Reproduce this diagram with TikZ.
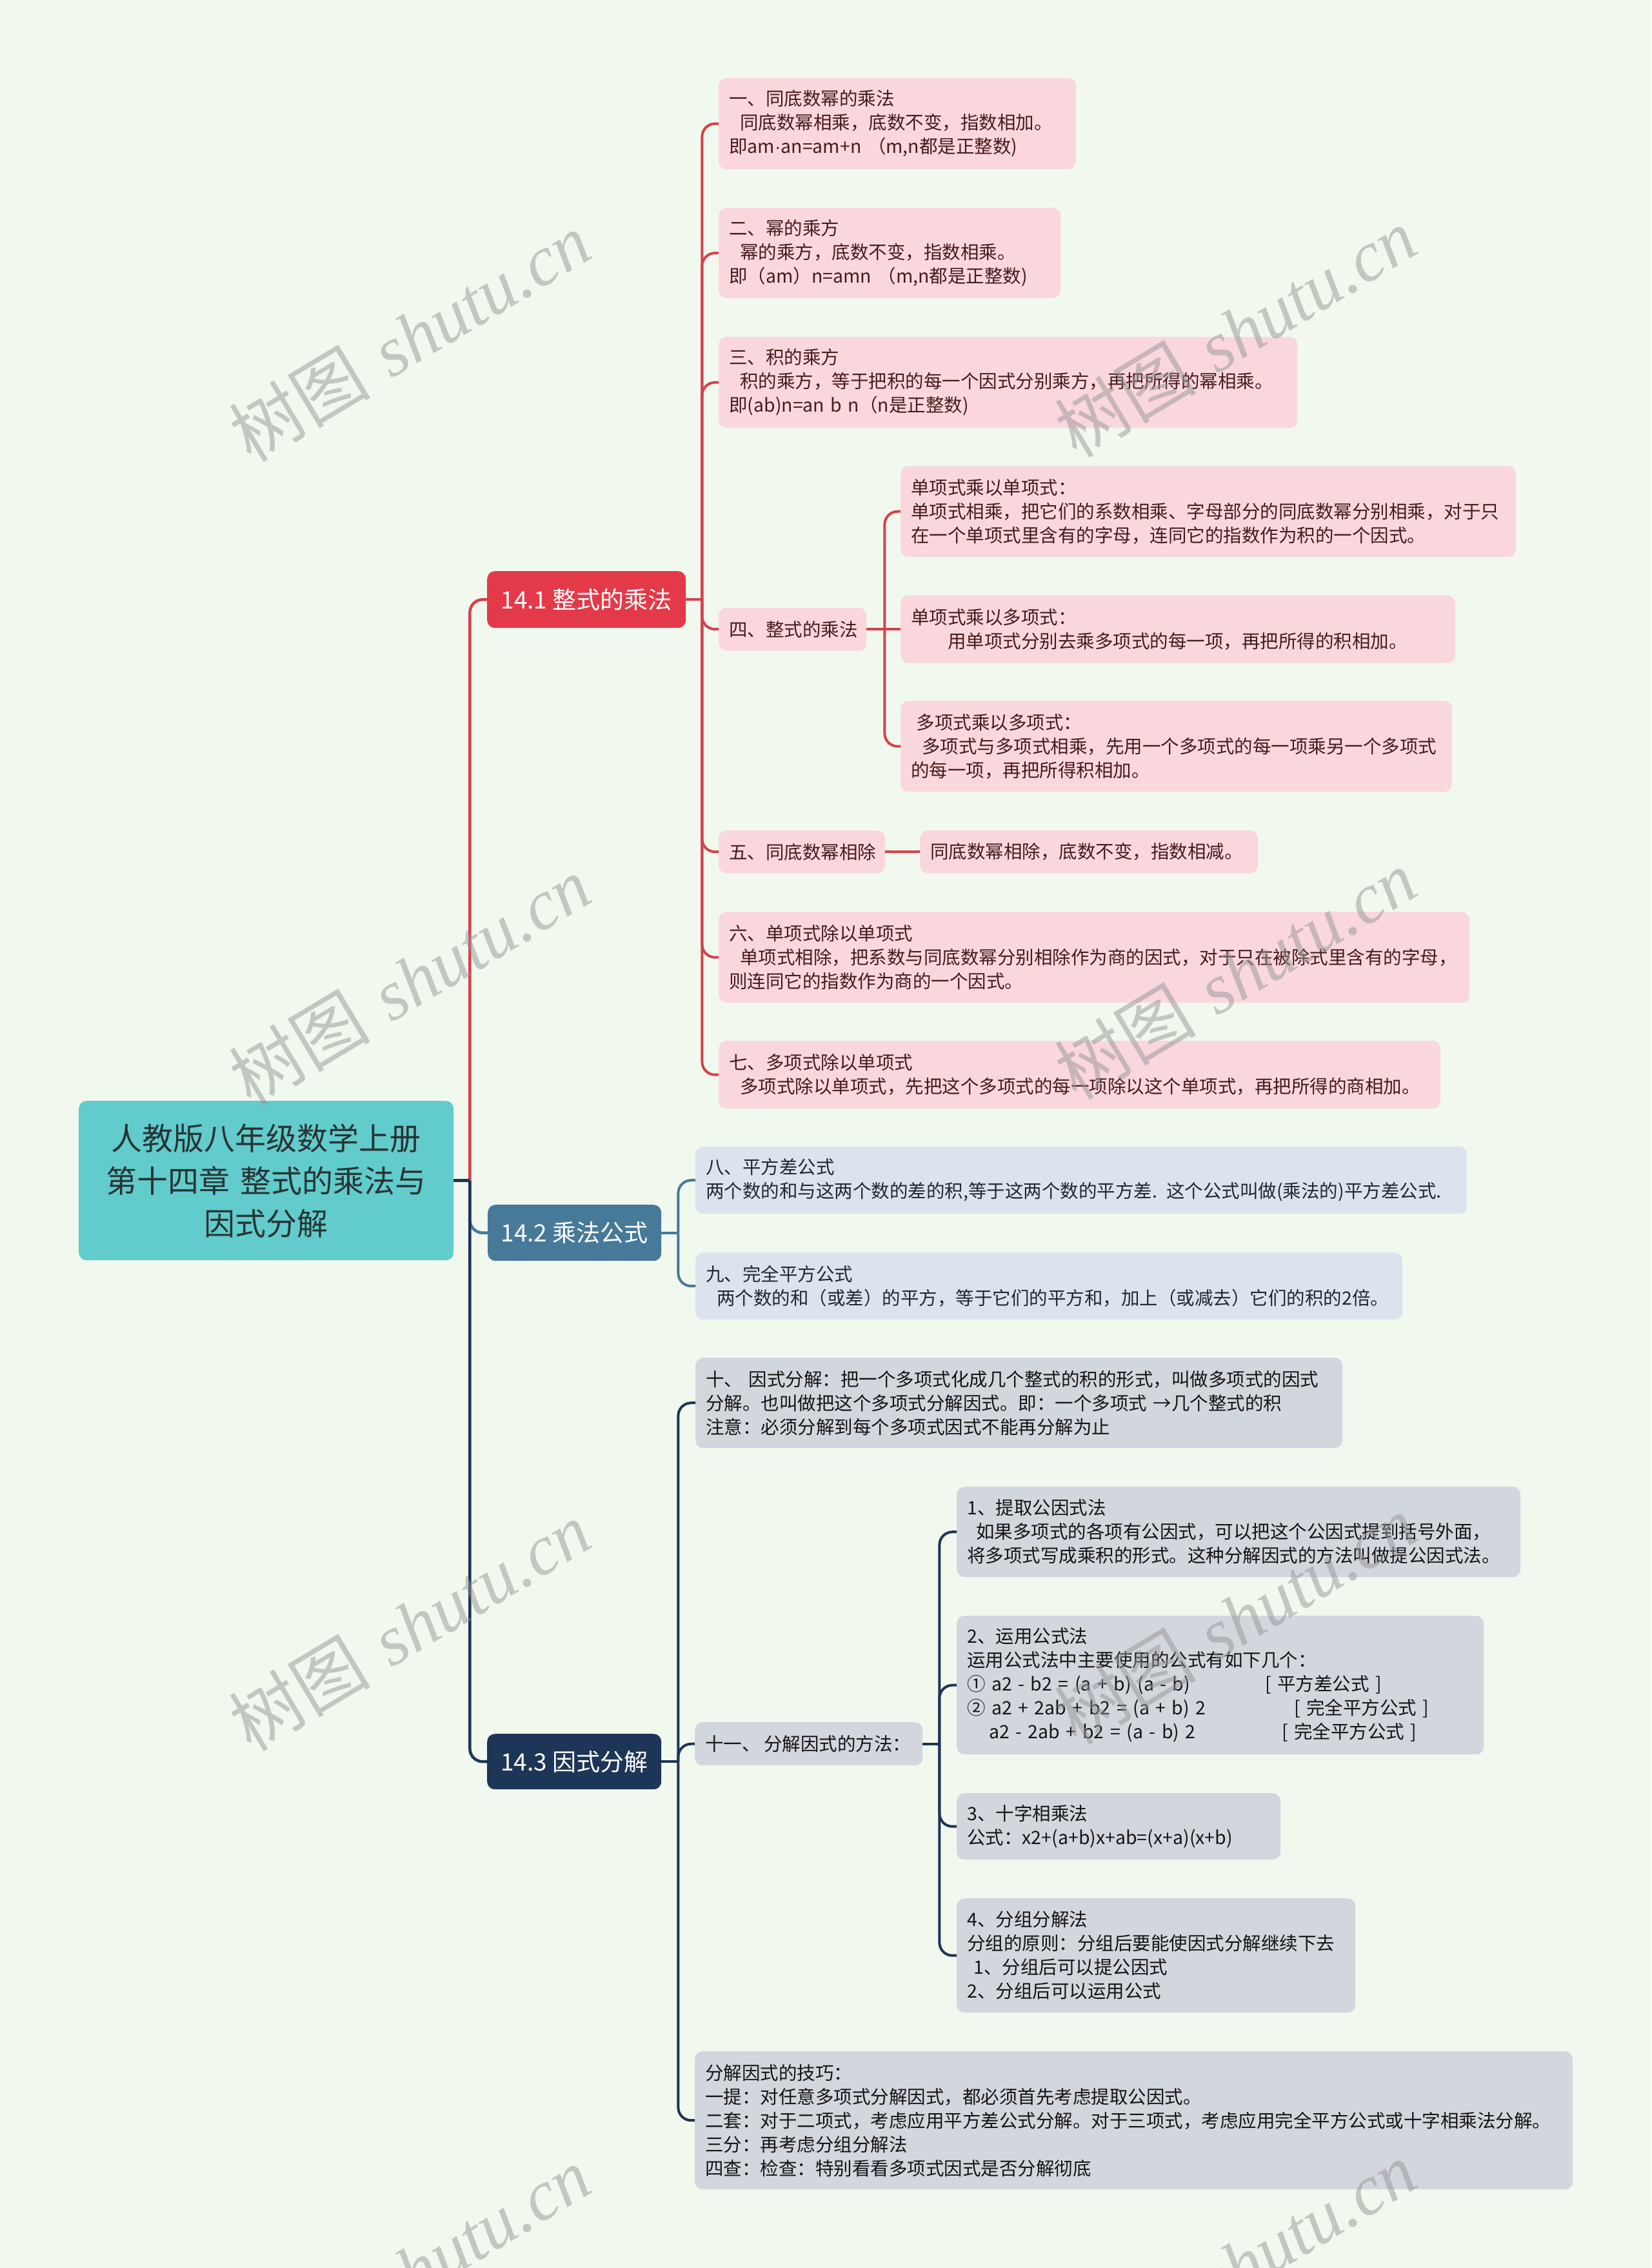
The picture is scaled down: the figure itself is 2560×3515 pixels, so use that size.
\documentclass[tikz,border=0pt]{standalone}
\usepackage{fontspec}
\newfontfamily\cjk{Noto Sans CJK SC}
\newfontfamily\wmlatin{Liberation Serif}
\newfontfamily\lat{Liberation Sans}
\usetikzlibrary{calc}
\definecolor{bgc}{RGB}{241,249,238}
\definecolor{rootc}{RGB}{98,203,204}
\definecolor{roottext}{RGB}{40,52,52}
\definecolor{redc}{RGB}{228,57,72}
\definecolor{redline}{RGB}{216,64,76}
\definecolor{bluec}{RGB}{71,121,153}
\definecolor{navyc}{RGB}{29,53,87}
\definecolor{pinkc}{RGB}{250,215,221}
\definecolor{pinktext}{RGB}{72,26,26}
\definecolor{lbluec}{RGB}{219,228,236}
\definecolor{lbluetext}{RGB}{30,40,52}
\definecolor{greyc}{RGB}{210,214,221}
\definecolor{greytext}{RGB}{20,20,20}
\definecolor{wmc}{RGB}{150,150,150}
\tikzset{
  base/.style={rounded corners=12pt, inner xsep=16pt, inner ysep=0pt, align=left,
    anchor=north west, font=\cjk\fontsize{28.5}{37}\selectfont},
  pinkbox/.style={base, fill=pinkc, text=pinktext},
  lbluebox/.style={base, fill=lbluec, text=lbluetext},
  greybox/.style={base, fill=greyc, text=greytext},
  topic/.style={rounded corners=12pt, inner sep=0pt, align=center, anchor=north west,
    text=white, font=\cjk\fontsize{37}{44}\selectfont},
  redl/.style={draw=redline, line width=4pt, rounded corners=20pt},
  bluel/.style={draw=bluec, line width=4pt, rounded corners=20pt},
  navyl/.style={draw=navyc, line width=4pt, rounded corners=20pt},
  wm/.style={text=wmc, opacity=0.5, rotate=31, inner sep=0pt, font=\fontsize{110}{114}\selectfont}
}
\begin{document}
\begin{tikzpicture}[x=1pt,y=-1pt]
\fill[bgc] (0,0) rectangle (2560,3515);
\useasboundingbox (0,0) rectangle (2560,3515);

% root
\node[rounded corners=12pt, fill=rootc, text=roottext, minimum width=581pt, minimum height=247pt,
  text width=549pt, inner xsep=16pt, inner ysep=0pt, align=center, anchor=north west,
  font=\cjk\fontsize{48}{66}\selectfont] (root) at (122,1706)
  {人教版八年级数学上册\\第十四章 整式的乘法与\\因式分解};

% level 1
\node[topic, fill=redc, minimum width=308pt, minimum height=88pt] (n141) at (755,885) {14.1 整式的乘法};
\node[topic, fill=bluec, minimum width=269pt, minimum height=87pt] (n142) at (756,1867) {14.2 乘法公式};
\node[topic, fill=navyc, minimum width=270pt, minimum height=86pt] (n143) at (755,2687) {14.3 因式分解};

% 14.1 children
\node[pinkbox, minimum width=554pt, text width=522pt, minimum height=141pt] (c1) at (1114,121)
  {一、同底数幂的乘法\\\hspace*{0.6em}同底数幂相乘，底数不变，指数相加。\\即am{\lat ·}an=am+n （m,n都是正整数)};
\node[pinkbox, minimum width=530pt, text width=498pt, minimum height=140pt] (c2) at (1114,322)
  {二、幂的乘方\\\hspace*{0.6em}幂的乘方，底数不变，指数相乘。\\即（am）n=amn （m,n都是正整数)};
\node[pinkbox, minimum width=897pt, text width=865pt, minimum height=141pt] (c3) at (1114,522)
  {三、积的乘方\\\hspace*{0.6em}积的乘方，等于把积的每一个因式分别乘方，再把所得的幂相乘。\\即(ab)n=an b n（n是正整数)};
\node[pinkbox, minimum width=229pt, text width=197pt, minimum height=67pt] (c4) at (1114,941.5)
  {四、整式的乘法};
\node[pinkbox, minimum width=954pt, text width=922pt, minimum height=141pt] (c41) at (1396,722)
  {单项式乘以单项式：\\单项式相乘，把它们的系数相乘、字母部分的同底数幂分别相乘，对于只\\在一个单项式里含有的字母，连同它的指数作为积的一个因式。};
\node[pinkbox, minimum width=860pt, text width=828pt, minimum height=105pt] (c42) at (1396,922.5)
  {单项式乘以多项式：\\\hspace*{2em}用单项式分别去乘多项式的每一项，再把所得的积相加。};
\node[pinkbox, minimum width=855pt, text width=823pt, minimum height=141pt] (c43) at (1396,1086)
  {\hspace*{0.3em}多项式乘以多项式：\\\hspace*{0.6em}多项式与多项式相乘，先用一个多项式的每一项乘另一个多项式\\的每一项，再把所得积相加。};
\node[pinkbox, minimum width=258pt, text width=226pt, minimum height=66pt] (c5) at (1114,1287)
  {五、同底数幂相除};
\node[pinkbox, minimum width=524pt, text width=492pt, minimum height=66pt] (c51) at (1426,1287)
  {同底数幂相除，底数不变，指数相减。};
\node[pinkbox, minimum width=1164pt, text width=1132pt, minimum height=141pt] (c6) at (1114,1413)
  {六、单项式除以单项式\\\hspace*{0.6em}单项式相除，把系数与同底数幂分别相除作为商的因式，对于只在被除式里含有的字母，\\则连同它的指数作为商的一个因式。};
\node[pinkbox, minimum width=1119pt, text width=1087pt, minimum height=105pt] (c7) at (1114,1613)
  {七、多项式除以单项式\\\hspace*{0.6em}多项式除以单项式，先把这个多项式的每一项除以这个单项式，再把所得的商相加。};

% 14.2 children
\node[lbluebox, minimum width=1196pt, text width=1164pt, minimum height=104pt] (c8) at (1078,1777)
  {八、平方差公式\\两个数的和与这两个数的差的积,等于这两个数的平方差. 这个公式叫做(乘法的)平方差公式.};
\node[lbluebox, minimum width=1096pt, text width=1064pt, minimum height=104pt] (c9) at (1078,1941)
  {九、完全平方公式\\\hspace*{0.6em}两个数的和（或差）的平方，等于它们的平方和，加上（或减去）它们的积的2倍。};

% 14.3 children
\node[greybox, minimum width=1003pt, text width=971pt, minimum height=140pt] (c10) at (1078,2104)
  {十、 因式分解：把一个多项式化成几个整式的积的形式，叫做多项式的因式\\分解。也叫做把这个多项式分解因式。即：一个多项式 →几个整式的积\\注意：必须分解到每个多项式因式不能再分解为止};
\node[greybox, minimum width=353pt, text width=321pt, minimum height=67pt] (c11) at (1077,2669)
  {\mbox{十一、\hspace{0.2em}分解因式的方法：}};
\node[greybox, minimum width=874pt, text width=842pt, minimum height=140pt] (c111) at (1483,2304)
  {1、提取公因式法\\\hspace*{0.5em}如果多项式的各项有公因式，可以把这个公因式提到括号外面，\\将多项式写成乘积的形式。这种分解因式的方法叫做提公因式法。};
\node[greybox, minimum width=817pt, text width=785pt, minimum height=215pt] (c112) at (1483,2504)
  {2、运用公式法\\运用公式法中主要使用的公式有如下几个：\\
   \makebox[462pt][l]{① a2 - b2 = (a + b) (a - b)}[ 平方差公式 ]\\
   \makebox[507pt][l]{② a2 + 2ab + b2 = (a + b) 2}[ 完全平方公式 ]\\
   \hspace*{34pt}\makebox[454pt][l]{a2 - 2ab + b2 = (a - b) 2}[ 完全平方公式 ]};
\node[greybox, minimum width=502pt, text width=470pt, minimum height=103pt] (c113) at (1483,2779)
  {3、十字相乘法\\公式：x2+(a+b)x+ab=(x+a)(x+b)};
\node[greybox, minimum width=618pt, text width=586pt, minimum height=177pt] (c114) at (1483,2942)
  {4、分组分解法\\分组的原则：分组后要能使因式分解继续下去\\\hspace*{0.35em}1、分组后可以提公因式\\2、分组后可以运用公式};
\node[greybox, minimum width=1361pt, text width=1329pt, minimum height=214pt] (c12) at (1077,3179)
  {分解因式的技巧：\\一提：对任意多项式分解因式，都必须首先考虑提取公因式。\\二套：对于二项式，考虑应用平方差公式分解。对于三项式，考虑应用完全平方公式或十字相乘法分解。\\三分：再考虑分组分解法\\四查：检查：特别看看多项式因式是否分解彻底};

% connectors: trunk
\coordinate (j0) at ($(root.east)+(25pt,0pt)$);
\draw[redl, line width=4.5pt] (j0) |- (n141.west);
\draw[bluel, line width=4.5pt] (j0) |- (n142.west);
\draw[navyl, line width=4.5pt] (j0) |- (n143.west);
\draw[navyl, line width=4.5pt] (root.east) -- (j0);

% 14.1 branch
\coordinate (b1) at ($(n141.east)+(25pt,0pt)$);
\draw[redl] (n141.east) -- (b1);
\foreach \c in {c1,c2,c3,c4,c5,c6,c7} \draw[redl] (b1) |- (\c.west);
\coordinate (b4) at ($(c4.east)+(28pt,0pt)$);
\draw[redl] (c4.east) -- (b4);
\draw[redl] (b4) |- (c41.west);
\draw[redl] (b4) -- (c42.west);
\draw[redl] (b4) |- (c43.west);
\draw[redl] (c5.east) -- (c51.west);

% 14.2 branch
\coordinate (b2) at ($(n142.east)+(26pt,0pt)$);
\draw[bluel] (n142.east) -- (b2);
\foreach \c in {c8,c9} \draw[bluel] (b2) |- (\c.west);

% 14.3 branch
\coordinate (b3) at ($(n143.east)+(26pt,0pt)$);
\draw[navyl] (n143.east) -- (b3);
\foreach \c in {c10,c11,c12} \draw[navyl] (b3) |- (\c.west);
\coordinate (b11) at ($(c11.east)+(26pt,0pt)$);
\draw[navyl] (c11.east) -- (b11);
\foreach \c in {c111,c112,c113,c114} \draw[navyl] (b11) |- (\c.west);

% watermarks
\begin{scope}
\clip (0,0) rectangle (2560,3515);
\foreach \p [count=\i] in {(635,522),(1915,515),(635,1520),(1915,1510),(635,2520),(1915,2510),(635,3520),(1915,3512)}
  \node[wm] (wm\i) at \p {{\cjk 树图} {\wmlatin\itshape shutu.cn}};
\end{scope}
\end{tikzpicture}
\end{document}
